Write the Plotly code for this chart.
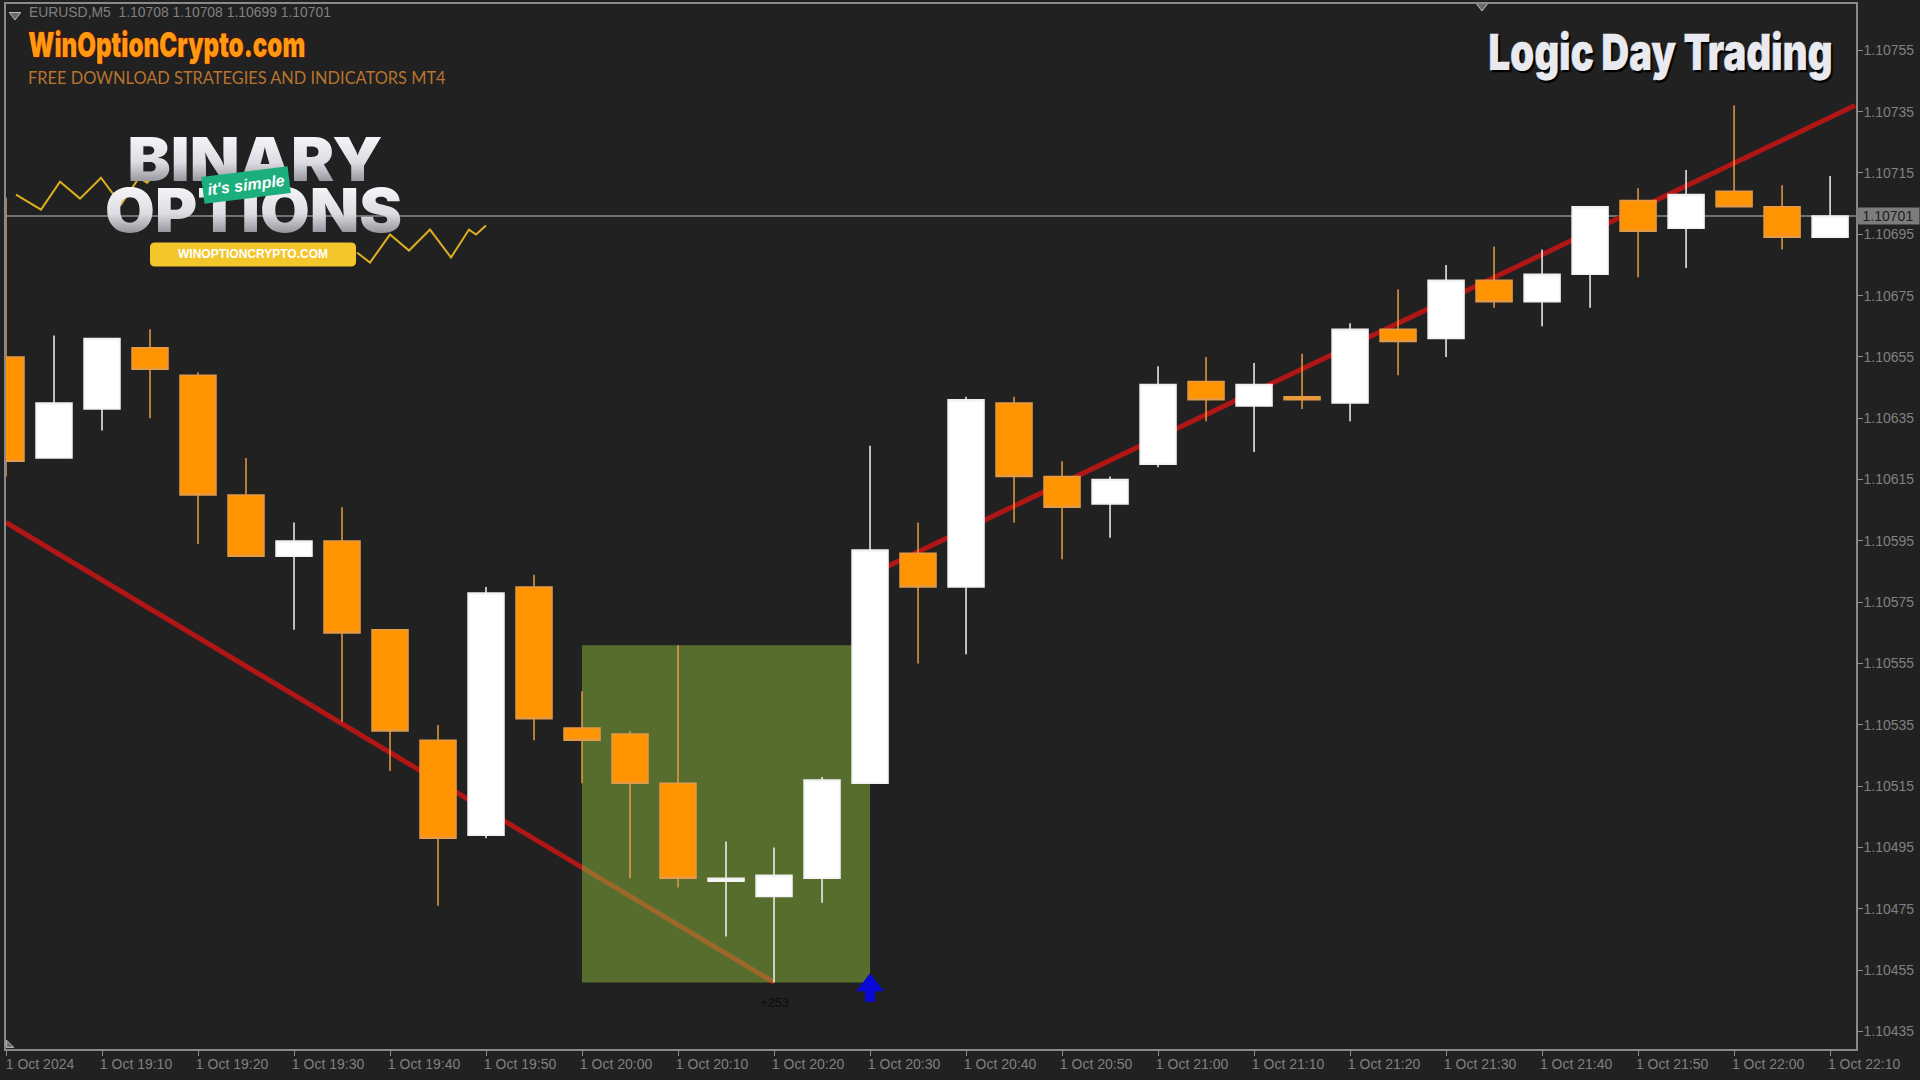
import pandas as pd
import plotly.graph_objects as go

# ---------- data ----------
times = pd.date_range("2024-10-01 19:00", periods=39, freq="5min")
opens = [1.10655,1.10622,1.10638,1.10658,1.10649,1.10610,1.10590,1.10595,1.10566,1.10530,1.10499,1.10580,1.10534,
         1.10532,1.10516,1.10484,1.10479,1.10485,1.10516,1.10591,1.10580,1.10640,1.10616,1.10607,1.10620,1.10647,
         1.10639,1.10642,1.10640,1.10664,1.10661,1.10680,1.10673,1.10682,1.10706,1.10697,1.10709,1.10704,1.10694]
closes = [1.10621,1.10640,1.10661,1.10651,1.10610,1.10590,1.10595,1.10565,1.10533,1.10498,1.10578,1.10537,1.10530,
          1.10516,1.10485,1.10485,1.10486,1.10517,1.10592,1.10580,1.10641,1.10616,1.10606,1.10615,1.10646,1.10641,
          1.10646,1.10641,1.10664,1.10660,1.10680,1.10673,1.10682,1.10704,1.10696,1.10708,1.10704,1.10694,1.10701]
highs = [1.10707,1.10662,1.10661,1.10664,1.10650,1.10622,1.10601,1.10606,1.10566,1.10535,1.10580,1.10584,1.10546,
         1.10533,1.10561,1.10497,1.10495,1.10518,1.10626,1.10601,1.10642,1.10642,1.10621,1.10616,1.10652,1.10655,
         1.10653,1.10656,1.10666,1.10677,1.10685,1.10691,1.10690,1.10704,1.10710,1.10716,1.10737,1.10711,1.10714]
lows = [1.10616,1.10622,1.10631,1.10635,1.10594,1.10590,1.10566,1.10536,1.10520,1.10476,1.10498,1.10530,1.10516,
        1.10485,1.10482,1.10466,1.10451,1.10477,1.10516,1.10555,1.10558,1.10601,1.10589,1.10596,1.10619,1.10634,
        1.10624,1.10638,1.10634,1.10649,1.10655,1.10671,1.10665,1.10671,1.10681,1.10684,1.10704,1.10690,1.10694]

y_ticks = [1.10755,1.10735,1.10715,1.10695,1.10675,1.10655,1.10635,1.10615,1.10595,1.10575,1.10555,1.10535,
           1.10515,1.10495,1.10475,1.10455,1.10435]
x_tick_labels = ["1 Oct 2024","1 Oct 19:10","1 Oct 19:20","1 Oct 19:30","1 Oct 19:40","1 Oct 19:50","1 Oct 20:00",
                 "1 Oct 20:10","1 Oct 20:20","1 Oct 20:30","1 Oct 20:40","1 Oct 20:50","1 Oct 21:00","1 Oct 21:10",
                 "1 Oct 21:20","1 Oct 21:30","1 Oct 21:40","1 Oct 21:50","1 Oct 22:00","1 Oct 22:10"]
x_ticks = list(times[::2])

last_price = 1.10701
down_x = [times[0], times[16]]
down_y = [1.10601, 1.10451]
up_x = [times[18], pd.Timestamp("2024-10-01 22:12:36")]
up_y = [1.10584, 1.10737]
zone_x = [times[12], times[18]]
zone_y = [1.10451, 1.10561]
signal_x = [times[18]]
signal_head_y = [1.104501]
signal_stem_y = [1.104501, 1.104447]

zig1_x = [16,41,60,80,101,121,139,147,157]
zig1_y = [193,208,180,197,176,203,176,181,171]
zig2_x = [357,370,390,409,430,451,469,476,486]
zig2_y = [251,261,233,249,228,256,228,233,224]

# ---------- style ----------
BG = "#212121"
GRID = "#8a8a8a"
TXT = "#808080"
ORANGE = "#ff9400"
BLUE = "#0808d8"
PL, PR, PT, PB = 6, 1856, 2, 1049

fig = go.Figure()
fig.add_trace(go.Candlestick(
    x=times, open=opens, high=highs, low=lows, close=closes,
    increasing=dict(fillcolor="#ffffff", line=dict(color="#f2f2f2", width=1.5)),
    decreasing=dict(fillcolor=ORANGE, line=dict(color="#e59a45", width=1.5)),
    whiskerwidth=0, hoverinfo="skip", showlegend=False))

# buy arrow: stem and head
fig.add_trace(go.Scatter(x=signal_x * 2, y=signal_stem_y, mode="lines",
                         line=dict(color=BLUE, width=10), hoverinfo="skip", showlegend=False))
fig.add_trace(go.Scatter(x=signal_x, y=signal_head_y, mode="markers",
                         marker=dict(symbol="triangle-up", size=24, color=BLUE), hoverinfo="skip", showlegend=False))

# logo zigzags on a pixel overlay
for zx, zy in ((zig1_x, zig1_y), (zig2_x, zig2_y)):
    fig.add_trace(go.Scatter(x=zx, y=zy, xaxis="x2", yaxis="y2", mode="lines",
                             line=dict(color="#dcb01e", width=2), hoverinfo="skip", showlegend=False))
fig.add_trace(go.Scatter(x=[15, 1482, 9], y=[13, 3, 1045], xaxis="x2", yaxis="y2", mode="markers",
                         marker=dict(symbol=["triangle-down","triangle-down","triangle-sw"], size=[10,12,8], color="#8a8a8a"),
                         hoverinfo="skip", showlegend=False))

shapes = [
    dict(type="line", xref="x", yref="y", x0=down_x[0], x1=down_x[1], y0=down_y[0], y1=down_y[1],
         line=dict(color="#b01616", width=5), layer="below"),
    dict(type="line", xref="x", yref="y", x0=up_x[0], x1=up_x[1], y0=up_y[0], y1=up_y[1],
         line=dict(color="#b01616", width=5), layer="below"),
    dict(type="line", xref="paper", yref="y", x0=0, x1=1, y0=last_price, y1=last_price,
         line=dict(color="#8c8c8c", width=1.5), layer="below"),
    dict(type="rect", xref="x", yref="y", x0=zone_x[0], x1=zone_x[1], y0=zone_y[0], y1=zone_y[1],
         fillcolor="rgb(139,181,59)", opacity=0.52, line=dict(width=0), layer="below"),
    dict(type="path", xref="x2", yref="y2", layer="above", fillcolor="#f3c62b", line=dict(width=0),
         path="M155,241 H351 Q356,241 356,246 V260 Q356,265 351,265 H155 Q150,265 150,260 V246 Q150,241 155,241 Z"),
]

def txt(x, y, text, size, color, family="Liberation Sans", anchor="left", font=None, **kw):
    return dict(xref="x2", yref="y2", x=x, y=y, text=text, showarrow=False, xanchor=anchor, yanchor="middle",
                font=dict(size=size, color=color, family=family, **(font or {})), **kw)

anns = [
    txt(27, 10.5, "EURUSD,M5  1.10708 1.10708 1.10699 1.10701", 13.9, TXT),
    txt(166, 42.5, "WinOptionCrypto.com", 34, "#ff9a10", "Inter", anchor="center", font=dict(weight=900)),
    txt(26, 75.5, "FREE DOWNLOAD STRATEGIES AND INDICATORS MT4", 16.4, "#b8742e", "Lato"),
    txt(1660, 50.5, "Logic Day Trading", 50, "#e9e9f0", "Inter", anchor="center",
        font=dict(weight=900, shadow="2px 2px 1px #000")),
    txt(255, 157, "BINARY", 60, "#e2e2e8", "Inter", anchor="center", font=dict(weight=900)),
    txt(253, 208.5, "OPTIONS", 60, "#d8d8de", "Inter", anchor="center", font=dict(weight=900)),
    txt(246, 183, "<i><b>it's simple</b></i>", 16, "#ffffff", "Liberation Sans", anchor="center",
        textangle=-7, bgcolor="#1cae7c", width=84, height=24),
    txt(253, 252, "<b>WINOPTIONCRYPTO.COM</b>", 12, "#ffffff", "Liberation Sans", anchor="center"),
    txt(774, 1002, "+253", 13, "#0c0c0c", "Liberation Sans", anchor="center"),
    dict(xref="paper", yref="y", x=(1888 - PL) / (PR - PL), y=last_price, text="1.10701", showarrow=False,
         xanchor="center", yanchor="middle", bgcolor="#7c7c7c", width=60, height=14,
         font=dict(size=14, color="#202020", family="Liberation Sans")),
]

fig.update_layout(
    width=1920, height=1080, margin=dict(l=PL, r=1920 - PR, t=PT, b=1080 - PB, pad=0),
    paper_bgcolor=BG, plot_bgcolor=BG, showlegend=False, boxgap=0.25, boxgroupgap=0,
    font=dict(family="Liberation Sans", color=TXT),
    xaxis=dict(type="date", range=[times[0], pd.Timestamp("2024-10-01 22:12:42")], rangeslider=dict(visible=False),
               tickmode="array", tickvals=x_ticks, ticktext=x_tick_labels, showgrid=False, zeroline=False,
               ticks="outside", ticklen=5, tickcolor=GRID, showline=True, linecolor=GRID, linewidth=1.5, mirror=True,
               ticklabelshift=34, ticklabelstandoff=-4, tickangle=0,
               tickfont=dict(size=14, color=TXT, family="Liberation Sans")),
    yaxis=dict(side="right", range=[1.104293, 1.107701], tickmode="array", tickvals=y_ticks,
               ticktext=[f"{v:.5f}" for v in y_ticks], showgrid=False, zeroline=False,
               ticks="outside", ticklen=5, tickcolor=GRID, showline=True, linecolor=GRID, linewidth=1.5, mirror=True,
               ticklabelstandoff=-2, tickfont=dict(size=14, color=TXT, family="Liberation Sans")),
    xaxis2=dict(overlaying="x", anchor="y2", range=[PL, PR], visible=False),
    yaxis2=dict(overlaying="y", anchor="x2", range=[PB, PT], visible=False),
    shapes=shapes, annotations=anns,
)

post = """
document.body.style.margin='0';
document.documentElement.style.background='#212121';
var W={'WinOptionCrypto.com':[277,'#8a1000',1.2],'Logic Day Trading':[344,'#e9e9f0',0.6],'BINARY':[255,null,0],'OPTIONS':[297,null,0]};
var defs=document.querySelector('.main-svg defs');
var ns='http://www.w3.org/2000/svg';
var g=document.createElementNS(ns,'linearGradient');
g.setAttribute('id','logoGrad');g.setAttribute('x1','0');g.setAttribute('y1','0');g.setAttribute('x2','0');g.setAttribute('y2','1');
[['0.2','#f4f4f8'],['0.55','#dcdce2'],['0.8','#9a9aa0']].forEach(function(s){var e=document.createElementNS(ns,'stop');e.setAttribute('offset',s[0]);e.setAttribute('stop-color',s[1]);g.appendChild(e);});
defs.appendChild(g);
document.querySelectorAll('.annotation-text').forEach(function(t){
  var w=W[t.textContent];
  if(!w)return;
  t.setAttribute('textLength',w[0]);
  t.setAttribute('lengthAdjust','spacingAndGlyphs');
  if(w[1]){t.style.stroke=w[1];t.style.strokeWidth=w[2]+'px';t.style.paintOrder='stroke';}
  else{t.style.fill='url(#logoGrad)';}
});
"""
fig.write_html("out.html", config=dict(displayModeBar=False), post_script=post)
